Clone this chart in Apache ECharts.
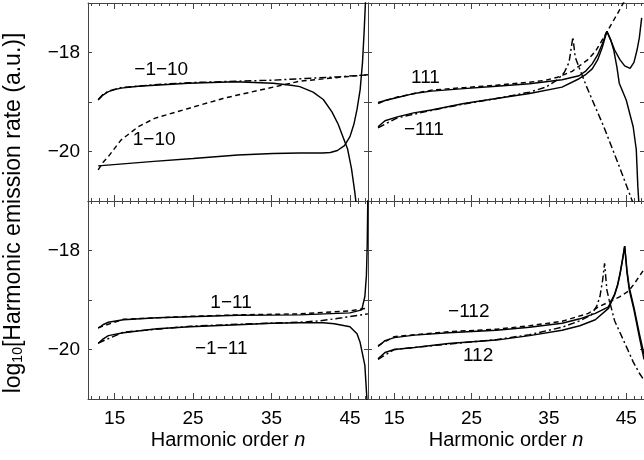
<!DOCTYPE html>
<html>
<head>
<meta charset="utf-8">
<script src="https://cdn.jsdelivr.net/npm/echarts@6/dist/echarts.min.js"></script>
<style>
  html, body { margin: 0; padding: 0; background: #fff; }
  #chart { width: 644px; height: 460px; }
</style>
</head>
<body>
<div id="chart"></div>
<script>
// Harmonic emission rates, log10 (a.u.), versus harmonic order n.
// Each panel: two exact curves (solid) and two approximations (dashed, dash-dot).

// ---- axis ticks ----
const xMinorTicks = [12,13,14,15,16,17,18,19,20,21,22,23,24,25,26,27,28,29,30,31,32,33,34,35,36,37,38,39,40,41,42,43,44,45,46,47];
const xMajorTicks = [15, 25, 35, 45];
const yLabelTicks = [-20, -18];

// ---- panel (top-left): 1-10 / -1-10 ----
const tlSolidM1M10 = [[12.9,-18.96],[13.5,-18.86],[14.2,-18.79],[15.0,-18.75],[15.8,-18.72],[18,-18.68],[20.1,-18.66],[24.4,-18.62],[30.4,-18.59],[35.2,-18.62],[37.5,-18.66],[38.6,-18.69],[40.3,-18.8],[41.6,-18.95],[42.7,-19.2],[43.5,-19.45],[44.1,-19.7],[44.7,-19.95],[45.2,-20.35],[45.6,-20.8],[45.9,-21.2]];
const tlSolid1M10 = [[12.9,-20.29],[20,-20.2],[25,-20.14],[30.7,-20.07],[35.2,-20.04],[38.6,-20.03],[41.5,-20.03],[42.5,-20.02],[43.4,-19.98],[44.3,-19.88],[45.0,-19.7],[45.5,-19.45],[45.9,-19.15],[46.3,-18.75],[46.6,-18.2],[46.8,-17.6],[47.0,-16.9]];
const tlDashed = [[12.9,-20.37],[13.5,-20.22],[14.2,-20.1],[15.8,-19.77],[18.0,-19.5],[20.1,-19.33],[24.4,-19.13],[28.8,-18.93],[30.4,-18.87],[35.2,-18.7],[38.6,-18.58],[43.7,-18.5],[47.3,-18.45]];
const tlDashDot = [[12.9,-18.95],[13.5,-18.85],[14.2,-18.78],[15.8,-18.71],[20.1,-18.65],[24.4,-18.61],[30.4,-18.58],[35.2,-18.56],[38.6,-18.53],[43.7,-18.49],[47.3,-18.45]];

// ---- panel (top-right): 111 / -111 ----
const trSolid111 = [[12.9,-19.03],[13.8,-18.97],[15.4,-18.91],[17.5,-18.83],[19.8,-18.78],[24.0,-18.73],[28.2,-18.68],[32.5,-18.63],[36.7,-18.55],[38.9,-18.47],[39.8,-18.37],[40.6,-18.23],[41.3,-18.05],[41.9,-17.83],[42.5,-17.57],[43.0,-17.75],[43.5,-17.95],[44.2,-18.15],[44.8,-18.27],[45.5,-18.32],[46.0,-18.2],[46.4,-17.95],[46.7,-17.7],[47.0,-17.3]];
const trSolidM111 = [[12.9,-19.5],[13.8,-19.38],[15.4,-19.3],[17.5,-19.22],[19.8,-19.16],[24.0,-19.03],[28.2,-18.93],[32.5,-18.83],[36.7,-18.7],[38.9,-18.53],[39.8,-18.44],[40.6,-18.33],[41.3,-18.15],[41.9,-17.9],[42.5,-17.57],[43.0,-17.75],[43.4,-17.96],[43.8,-18.3],[44.1,-18.62],[45.0,-18.96],[45.9,-19.5],[46.3,-19.96],[46.5,-20.7],[46.7,-21.2]];
const trDashed = [[12.9,-19.01],[15.4,-18.9],[19.8,-18.76],[24.0,-18.71],[28.2,-18.66],[32.5,-18.6],[34.6,-18.56],[36.1,-18.5],[38,-18.38],[40,-18.15],[41,-17.98],[42,-17.72],[43,-17.45],[44,-17.18],[44.8,-16.95]];
const trDashDot = [[12.9,-19.52],[15.4,-19.32],[19.8,-19.17],[24,-19.04],[28.2,-18.93],[32.5,-18.8],[34.6,-18.7],[36.1,-18.55],[37.0,-18.4],[37.6,-18.2],[38.1,-17.69],[38.4,-18.09],[38.9,-18.3],[39.9,-18.7],[42.1,-19.5],[44.1,-20.3],[45.9,-21.05],[46.1,-21.2]];

// ---- panel (bottom-left): 1-11 / -1-11 ----
const blSolid1M11 = [[12.9,-19.57],[13.5,-19.5],[14.2,-19.45],[16.1,-19.4],[20.4,-19.36],[24.6,-19.34],[30.7,-19.31],[38.6,-19.3],[45.0,-19.26],[46.5,-19.2],[46.9,-18.93],[47.1,-18.5],[47.2,-17.9],[47.28,-16.9]];
const blSolidM1M11 = [[12.9,-19.88],[13.5,-19.79],[14.2,-19.72],[16.1,-19.66],[20.4,-19.58],[24.6,-19.54],[30.7,-19.5],[35,-19.47],[38.6,-19.46],[41.6,-19.46],[43.0,-19.48],[45.0,-19.54],[45.9,-19.68],[46.3,-19.86],[46.9,-20.32],[47.2,-21.1]];
const blDashed = [[12.9,-19.56],[16.1,-19.39],[24.6,-19.33],[30.7,-19.3],[38.6,-19.28],[45,-19.22],[47.3,-19.16]];
const blDashDot = [[12.9,-19.87],[16.1,-19.65],[24.6,-19.53],[30.7,-19.49],[38.6,-19.45],[41.2,-19.42],[44,-19.36],[47.3,-19.28]];

// ---- panel (bottom-right): 112 / -112 ----
const brSolidM112 = [[12.9,-19.94],[13.8,-19.82],[15.0,-19.76],[17.6,-19.71],[22,-19.66],[28.2,-19.61],[32.5,-19.55],[36.7,-19.47],[39,-19.38],[41.0,-19.27],[42.7,-19.14],[43.5,-18.88],[43.9,-18.68],[44.2,-18.46],[44.55,-18.15],[44.8,-17.91],[45.1,-18.45],[45.4,-18.8],[46.0,-19.2],[46.7,-19.75],[47.3,-20.2]];
const brSolid112 = [[12.9,-20.19],[13.8,-20.06],[15.0,-20.0],[17.6,-19.96],[22,-19.88],[28.2,-19.81],[32.5,-19.72],[36.7,-19.61],[39,-19.52],[41.0,-19.4],[42.7,-19.17],[43.5,-18.9],[43.9,-18.7],[44.2,-18.48],[44.55,-18.17],[44.8,-17.91],[45.1,-18.4],[45.4,-18.75],[46.0,-19.15],[46.7,-19.68],[47.3,-20.1]];
const brDashed = [[12.9,-19.92],[15,-19.74],[22,-19.64],[28.2,-19.59],[32.5,-19.52],[36.7,-19.43],[40.1,-19.27],[41.4,-19.14],[42.9,-19.03],[44.2,-18.93],[45.3,-18.82],[46.0,-18.68],[46.7,-18.52],[47.3,-18.38]];
const brDashDot = [[12.9,-20.2],[15,-20.0],[22,-19.89],[28.2,-19.8],[32.5,-19.7],[36.7,-19.55],[39,-19.42],[40.5,-19.3],[41.2,-19.12],[41.6,-18.93],[41.95,-18.6],[42.2,-18.26],[42.5,-18.8],[42.8,-19.0],[43.5,-19.42],[44.9,-19.9],[45.9,-20.25],[46.7,-20.48],[47.3,-20.62]];

// ---- curve labels (data coordinates) ----
const labelsTL = [{ value: [21.0, -18.35], name: '\u22121\u221210' }, { value: [20.1, -19.77], name: '1\u221210' }];
const labelsTR = [{ value: [19.1, -18.52], name: '111' }, { value: [18.9, -19.57], name: '\u2212111' }];
const labelsBL = [{ value: [29.9, -19.07], name: '1\u221211' }, { value: [28.65, -19.99], name: '\u22121\u221211' }];
const labelsBR = [{ value: [24.7, -19.24], name: '\u2212112' }, { value: [25.9, -20.13], name: '112' }];

const FONT = '"Liberation Sans", Arial, Helvetica, sans-serif';
const FRAME = '#444';
const X_MIN = 11.6, X_MAX = 47.3;

const chart = echarts.init(document.getElementById('chart'), null, { renderer: 'canvas' });

const grids = [
  { left: 88, top: 3, width: 280, height: 198 },   // top-left
  { left: 368, top: 3, width: 280, height: 198 },  // top-right
  { left: 88, top: 201, width: 280, height: 198 }, // bottom-left
  { left: 368, top: 201, width: 280, height: 198 } // bottom-right
];

const xAxis = [];
const yAxis = [];
grids.forEach((g, gi) => {
  const isBottom = gi >= 2;
  const isLeft = gi % 2 === 0;
  ['bottom', 'top'].forEach(pos => {
    const labelled = pos === 'bottom' && isBottom;
    xAxis.push({
      type: 'value', gridIndex: gi, position: pos, min: X_MIN, max: X_MAX,
      axisLine: { show: true, onZero: false, lineStyle: { color: FRAME, width: 1 } },
      axisTick: { show: true, inside: true, length: 3, customValues: xMinorTicks, lineStyle: { color: FRAME, width: 1 } },
      axisLabel: labelled ? {
        show: true, customValues: xMajorTicks, margin: 10, color: '#000',
        fontSize: 19, fontFamily: FONT
      } : { show: false },
      splitLine: { show: false },
      name: labelled ? '{a|Harmonic order }{i|n}' : '',
      nameLocation: 'middle', nameGap: 31,
      nameTextStyle: {
        rich: {
          a: { fontSize: 20, fontFamily: FONT, color: '#000' },
          i: { fontSize: 20, fontFamily: FONT, color: '#000', fontStyle: 'italic' }
        }
      }
    });
    xAxis.push({
      type: 'value', gridIndex: gi, position: pos, min: X_MIN, max: X_MAX,
      axisLine: { show: false, onZero: false },
      axisTick: { show: true, inside: true, length: 6, customValues: xMajorTicks, lineStyle: { color: FRAME, width: 1 } },
      axisLabel: { show: false },
      splitLine: { show: false }
    });
  });
  ['left', 'right'].forEach(pos => {
    const labelled = pos === 'left' && isLeft;
    yAxis.push({
      type: 'value', gridIndex: gi, position: pos, min: -21, max: -17, interval: 1,
      axisLine: { show: true, onZero: false, lineStyle: { color: FRAME, width: 1 } },
      axisTick: { show: true, inside: true, length: 4, lineStyle: { color: FRAME, width: 1 } },
      axisLabel: labelled ? {
        show: true, customValues: yLabelTicks, margin: 8, color: '#000', fontSize: 19, fontFamily: FONT,
        formatter: v => (v < 0 ? '\u2212' : '') + Math.abs(v)
      } : { show: false },
      splitLine: { show: false }
    });
  });
});

const DASH = [5, 3.5];
const DASHDOT = [7, 3, 2, 3];

function curve(gi, data, type, z) {
  return {
    type: 'line', xAxisIndex: gi * 4, yAxisIndex: gi * 2, data: data,
    showSymbol: false, symbol: 'none', silent: true, clip: true, z: z,
    lineStyle: { color: '#000', width: 1.45, type: type },
    animation: false
  };
}

function labels(gi, data) {
  return {
    type: 'scatter', xAxisIndex: gi * 4, yAxisIndex: gi * 2, data: data,
    symbolSize: 1, silent: true, z: 5, animation: false,
    itemStyle: { opacity: 0 },
    label: {
      show: true, position: [0, 0], align: 'center', verticalAlign: 'middle',
      formatter: p => p.name, opacity: 1,
      fontSize: 19, fontFamily: FONT, color: '#000'
    }
  };
}

const series = [
  curve(0, tlDashed, DASH, 2), curve(0, tlDashDot, DASHDOT, 2),
  curve(0, tlSolidM1M10, 'solid', 3), curve(0, tlSolid1M10, 'solid', 3),
  labels(0, labelsTL),

  curve(1, trDashed, DASH, 2), curve(1, trDashDot, DASHDOT, 2),
  curve(1, trSolid111, 'solid', 3), curve(1, trSolidM111, 'solid', 3),
  labels(1, labelsTR),

  curve(2, blDashed, DASH, 2), curve(2, blDashDot, DASHDOT, 2),
  curve(2, blSolid1M11, 'solid', 3), curve(2, blSolidM1M11, 'solid', 3),
  labels(2, labelsBL),

  curve(3, brDashed, DASH, 2), curve(3, brDashDot, DASHDOT, 2),
  curve(3, brSolidM112, 'solid', 3), curve(3, brSolid112, 'solid', 3),
  labels(3, labelsBR)
];

chart.setOption({
  animation: false,
  backgroundColor: '#fff',
  grid: grids,
  xAxis: xAxis,
  yAxis: yAxis,
  series: series,
  graphic: [{
    type: 'text', x: 12, y: 213, rotation: Math.PI / 2, silent: true,
    style: {
      text: '{m|log}{s|10}{m|[Harmonic emission rate (a.u.)]}',
      align: 'center', verticalAlign: 'middle',
      rich: {
        m: { fontSize: 23, lineHeight: 27, fontFamily: FONT, fill: '#000', verticalAlign: 'bottom' },
        s: { fontSize: 14, lineHeight: 16, fontFamily: FONT, fill: '#000', verticalAlign: 'bottom' }
      }
    }
  }]
});
</script>
</body>
</html>
